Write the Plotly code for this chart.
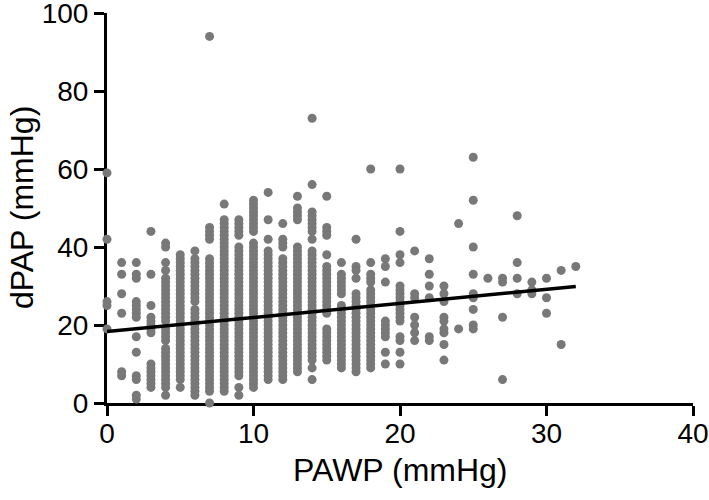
import plotly.graph_objects as go

# dPAP values (mmHg) observed at each integer PAWP (mmHg)
dpap_at_0 = [59, 42, 26, 25, 19]
dpap_at_1 = [36, 33, 28, 23, 8, 7]
dpap_at_2 = [36, 33, 32, 26, 25, 24, 23, 22, 17, 13, 7, 6, 2, 1]
dpap_at_3 = [44, 33, 25, 22, 21, 20, 19, 18, 10, 9, 8, 7, 6, 5, 4]
dpap_at_4 = [41, 40, 36, 34, 32, 31, 30, 29, 28, 27, 26, 25, 24, 23, 22, 21,
             19, 18, 17, 16, 14, 13, 12, 11, 10, 9, 8, 7, 6, 5, 4, 2]
dpap_at_5 = [38, 37, 36, 35, 34, 33, 32, 31, 30, 29, 28, 27, 26, 25, 24, 23,
             22, 21, 20, 19, 18, 17, 16, 15, 14, 13, 12, 11, 10, 9, 8, 7, 6, 4]
dpap_at_6 = [39, 37, 36, 35, 34, 33, 32, 31, 30, 29, 28, 27, 26, 24, 23, 22,
             21, 20, 19, 18, 17, 16, 15, 14, 13, 12, 11, 10, 9, 8, 7, 6, 5, 4, 3, 2]
dpap_at_7 = [94, 45, 44, 43, 42, 37, 36, 35, 34, 33, 32, 31, 30, 29, 28, 27,
             26, 25, 24, 23, 22, 21, 20, 19, 18, 17, 16, 15, 14, 13, 12, 11,
             10, 9, 8, 7, 6, 5, 4, 3, 0]
dpap_at_8 = [51, 47, 46, 45, 44, 43, 42, 41, 40, 39, 38, 37, 36, 35, 34, 33,
             32, 31, 30, 29, 28, 27, 26, 25, 24, 23, 22, 21, 20, 19, 18, 17,
             16, 15, 14, 13, 12, 11, 10, 9, 8, 7, 6, 5, 4, 3]
dpap_at_9 = [47, 46, 45, 44, 43, 40, 39, 38, 37, 36, 35, 34, 33, 32, 31, 30,
             29, 28, 27, 26, 25, 24, 23, 22, 21, 20, 19, 18, 17, 16, 15, 14,
             13, 12, 11, 10, 9, 8, 7, 4, 2]
dpap_at_10 = [52, 51, 50, 49, 48, 47, 46, 45, 44, 41, 40, 39, 38, 37, 36, 35,
              34, 33, 32, 31, 30, 29, 28, 27, 26, 25, 24, 23, 22, 21, 20, 19,
              18, 17, 16, 15, 14, 13, 12, 11, 10, 9, 8, 7, 6, 5, 4]
dpap_at_11 = [54, 47, 42, 39, 38, 37, 36, 35, 34, 33, 32, 31, 30, 29, 28, 27,
              26, 25, 24, 23, 22, 21, 20, 19, 18, 17, 16, 15, 14, 13, 12, 11,
              10, 9, 8, 7, 6]
dpap_at_12 = [46, 42, 41, 40, 37, 36, 35, 34, 33, 32, 31, 30, 29, 28, 27, 26,
              25, 24, 23, 22, 21, 20, 19, 18, 17, 16, 15, 14, 13, 12, 11, 10,
              9, 8, 7, 6]
dpap_at_13 = [53, 50, 49, 48, 47, 40, 39, 38, 37, 36, 35, 34, 33, 32, 31, 30,
              29, 28, 27, 26, 25, 24, 23, 22, 21, 20, 19, 18, 17, 16, 15, 14,
              13, 12, 11, 10, 9, 8]
dpap_at_14 = [73, 56, 49, 48, 47, 46, 45, 44, 42, 39, 38, 37, 36, 35, 34, 33,
              32, 31, 30, 29, 28, 27, 26, 25, 24, 23, 22, 21, 20, 19, 18, 17,
              16, 15, 14, 13, 12, 11, 9, 6]
dpap_at_15 = [53, 45, 44, 43, 38, 35, 34, 33, 32, 31, 30, 29, 28, 27, 26, 25,
              24, 23, 19, 18, 17, 16, 15, 14, 13, 12, 11]
dpap_at_16 = [36, 33, 32, 31, 30, 29, 28, 25, 24, 23, 22, 21, 20, 19, 18, 17,
              16, 15, 14, 13, 12, 11, 10, 9]
dpap_at_17 = [42, 35, 34, 32, 28, 27, 26, 25, 24, 23, 22, 21, 20, 19, 18, 17,
              16, 15, 14, 13, 12, 11, 10, 9, 8]
dpap_at_18 = [60, 36, 33, 32, 31, 29, 28, 27, 26, 25, 24, 23, 22, 21, 20, 19,
              18, 17, 16, 15, 14, 13, 12, 11, 10, 9]
dpap_at_19 = [37, 35, 31, 21, 20, 19, 18, 17, 13, 10]
dpap_at_20 = [60, 44, 38, 36, 30, 29, 28, 27, 26, 25, 24, 23, 22, 21, 17, 16, 13, 10]
dpap_at_21 = [39, 28, 27, 22, 20, 18, 16]
dpap_at_22 = [37, 33, 30, 27, 17, 16]
dpap_at_23 = [30, 28, 26, 22, 21, 19, 18, 15, 11]
dpap_at_24 = [46, 19]
dpap_at_25 = [63, 52, 40, 33, 28, 27, 24, 20, 19]
dpap_at_26 = [32]
dpap_at_27 = [32, 31, 22, 6]
dpap_at_28 = [48, 36, 32, 28]
dpap_at_29 = [31, 29, 28]
dpap_at_30 = [32, 27, 23]
dpap_at_31 = [34, 15]
dpap_at_32 = [35]

columns = [dpap_at_0, dpap_at_1, dpap_at_2, dpap_at_3, dpap_at_4, dpap_at_5,
           dpap_at_6, dpap_at_7, dpap_at_8, dpap_at_9, dpap_at_10, dpap_at_11,
           dpap_at_12, dpap_at_13, dpap_at_14, dpap_at_15, dpap_at_16,
           dpap_at_17, dpap_at_18, dpap_at_19, dpap_at_20, dpap_at_21,
           dpap_at_22, dpap_at_23, dpap_at_24, dpap_at_25, dpap_at_26,
           dpap_at_27, dpap_at_28, dpap_at_29, dpap_at_30, dpap_at_31,
           dpap_at_32]

# regression line endpoints
fit_pawp = [0, 32]
fit_dpap = [18.3, 29.9]

x_ticks = [0, 10, 20, 30, 40]
y_ticks = [0, 20, 40, 60, 80, 100]
x_title = "PAWP (mmHg)"
y_title = "dPAP (mmHg)"

xs, ys = [], []
for pawp, vals in enumerate(columns):
    for v in vals:
        xs.append(pawp)
        ys.append(v)

FONT = "Liberation Sans, Arial, Helvetica, sans-serif"

fig = go.Figure()
fig.add_trace(go.Scatter(
    x=xs, y=ys, mode="markers",
    marker=dict(color="#787878", size=9, line=dict(width=0)),
    cliponaxis=False, showlegend=False, hoverinfo="x+y"))
fig.add_trace(go.Scatter(
    x=fit_pawp, y=fit_dpap, mode="lines",
    line=dict(color="#000000", width=3.5),
    cliponaxis=False, showlegend=False))

axis_common = dict(
    showgrid=False, zeroline=False, showline=True, linecolor="#000000",
    linewidth=3, ticks="outside", tickcolor="#000000", tickwidth=3, ticklen=10,
    layer="below traces", automargin=False, ticklabeloverflow="allow",
    tickfont=dict(family=FONT, size=28, color="#000000"),
)

fig.update_layout(
    width=709, height=500,
    margin=dict(l=107, r=16, t=13, b=97),
    paper_bgcolor="white", plot_bgcolor="white",
    xaxis=dict(range=[0, 40], tickvals=x_ticks, ticklabelstandoff=-7,
               **axis_common),
    yaxis=dict(range=[0, 100], tickvals=y_ticks, **axis_common),
    annotations=[
        dict(text=x_title, xref="paper", yref="paper", x=0.5, y=0,
             xanchor="center", yanchor="middle", yshift=-67, showarrow=False,
             font=dict(family=FONT, size=32, color="#000000")),
        dict(text=y_title, xref="paper", yref="paper", x=0, y=0.5,
             xanchor="center", yanchor="middle", xshift=-85, textangle=-90,
             showarrow=False,
             font=dict(family=FONT, size=32, color="#000000")),
    ],
)

# remove the browser's default 8 px page margin so the figure fills the window
fig.write_html("out.html",
               config={"displayModeBar": False},
               post_script="document.body.style.margin='0';"
                           "document.body.style.overflow='hidden';")
